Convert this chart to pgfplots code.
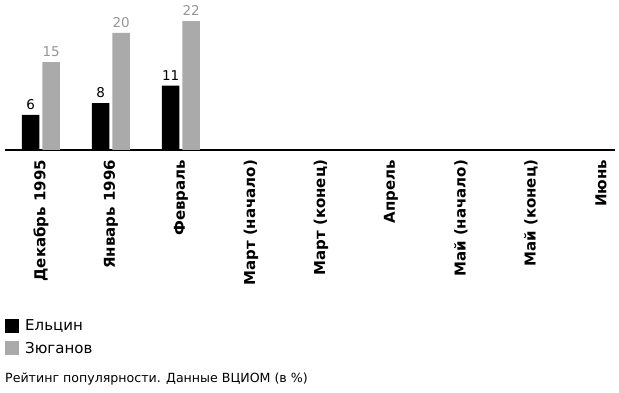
\documentclass[border=0pt]{standalone}
\usepackage{fontspec}
\setmainfont{DejaVu Sans}
\usepackage{pgfplots}
\pgfplotsset{compat=1.18}
\definecolor{zg}{RGB}{170,170,170}
\definecolor{zgt}{RGB}{150,150,150}
\begin{document}
\begin{tikzpicture}[x=1pt,y=1pt]
\useasboundingbox (0,0) rectangle (619,393);
\begin{axis}[
  at={(5pt,243pt)}, anchor=south west,
  scale only axis, width=610pt, height=150pt,
  clip=false,
  /pgf/number format/assume math mode=true,
  xmin=-0.514, xmax=8.2, ymin=0, ymax=25.6,
  axis y line=none, axis x line*=bottom,
  x axis line style={-, line width=2.6pt},
  ytick=\empty,
  xtick={0,1,2,3,4,5,6,7,8},
  xticklabels={Декабрь 1995, Январь 1996, Февраль, Март (начало), Март (конец), Апрель, Май (начало), Май (конец), Июнь},
  major tick length=0pt,
  xticklabel shift=10pt,
  xticklabel style={rotate=90, anchor=east, inner sep=0pt, outer sep=0pt, font=\bfseries\fontsize{15}{15}\selectfont},
  ybar, bar width=17.5pt,
  nodes near coords,
  every node near coord/.append style={font=\fontsize{13.5}{13.5}\selectfont, inner sep=0pt, yshift=5pt},
  legend style={draw=none, fill=none, at={(0,-1.125)}, anchor=north west, inner sep=0pt,
    font=\fontsize{15}{15}\selectfont, row sep=8.5pt, nodes={inner sep=0pt, outer sep=0pt}},
  legend cell align=left,
  legend image code/.code={\fill[#1] (0pt,-7pt) rectangle (14pt,7pt); \path (20pt,0pt);},
]
\addplot[fill=black, draw=none, bar shift=-10.25pt, every node near coord/.append style={text=black}]
  coordinates {(0,6) (1,8) (2,11)};
\addplot[fill=zg, draw=none, bar shift=10.25pt, every node near coord/.append style={text=zgt}]
  coordinates {(0,15) (1,20) (2,22)};
\legend{Ельцин, Зюганов}
\node[anchor=west, inner sep=0pt, font=\fontsize{12.6}{12.6}\selectfont] at (axis description cs:0,-1.527) {Рейтинг популярности. Данные ВЦИОМ (в \%)};
\end{axis}
\end{tikzpicture}
\end{document}
